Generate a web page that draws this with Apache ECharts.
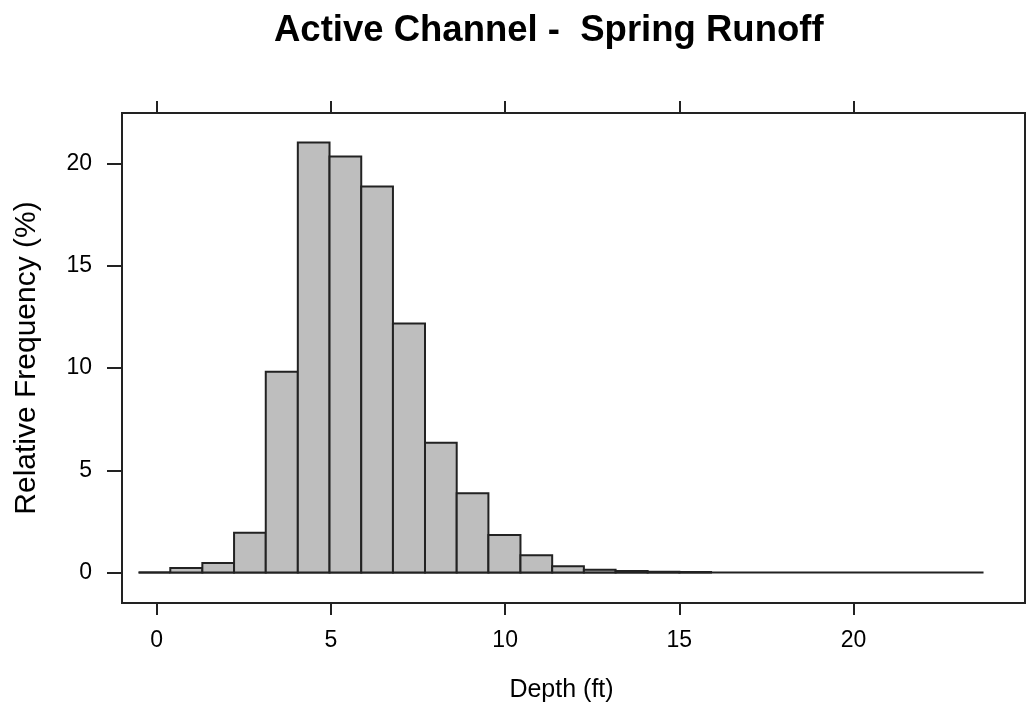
<!DOCTYPE html>
<html>
<head>
<meta charset="utf-8">
<script src="https://cdn.jsdelivr.net/npm/echarts@6/dist/echarts.min.js"></script>
<style>
html,body{margin:0;padding:0;background:#fff;}
#chart{width:1027px;height:708px;}
</style>
</head>
<body>
<div id="chart"></div>
<script>
// histogram breaks (ft) and relative frequency (%) per bin
var binEdges = [-0.52, 0.39, 1.31, 2.22, 3.13, 4.05, 4.96, 5.87, 6.78, 7.70, 8.61, 9.52, 10.44, 11.35, 12.26, 13.17, 14.09, 15.00, 15.91];
var relFreq = [0, 0.22, 0.46, 1.95, 9.82, 21.03, 20.34, 18.88, 12.18, 6.35, 3.88, 1.84, 0.85, 0.31, 0.14, 0.07, 0.04, 0.02];
var depthRange = [-0.52, 23.73];
var xTicks = [0, 5, 10, 15, 20];
var yTicks = [0, 5, 10, 15, 20];

var bins = [];
for (var i = 0; i < relFreq.length; i++) {
	bins.push([binEdges[i], binEdges[i + 1], relFreq[i]]);
}

var font = 'Liberation Sans, Arial, sans-serif';
var ink = '#222';

var chart = echarts.init(document.getElementById('chart'));
chart.setOption({
	animation: false,
	backgroundColor: '#fff',
	title: {
		text: 'Active Channel -  Spring Runoff',
		left: 269,
		top: 7,
		textStyle: {fontFamily: font, fontSize: 36.5, fontWeight: 'bold', color: '#000'}
	},
	grid: {
		left: 122, top: 113, width: 903, height: 490,
		show: true, borderColor: ink, borderWidth: 2, backgroundColor: '#fff'
	},
	xAxis: [{
		type: 'value', min: -0.996, max: 24.92, position: 'bottom',
		name: 'Depth (ft)', nameLocation: 'middle', nameGap: 75,
		nameTextStyle: {fontFamily: font, fontSize: 25, color: '#000', padding: [0, 24, 0, 0]},
		axisLine: {show: false, onZero: false},
		axisTick: {show: true, customValues: xTicks, length: 12, inside: false, lineStyle: {color: ink, width: 2}},
		axisLabel: {customValues: xTicks, fontFamily: font, fontSize: 23, color: '#000', margin: 26},
		splitLine: {show: false}
	}, {
		type: 'value', min: -0.996, max: 24.92, position: 'top',
		axisLine: {show: false, onZero: false},
		axisTick: {show: true, customValues: xTicks, length: 12, lineStyle: {color: ink, width: 2}},
		axisLabel: {show: false},
		splitLine: {show: false}
	}],
	yAxis: {
		type: 'value', min: -1.49, max: 22.47,
		name: 'Relative Frequency (%)', nameLocation: 'middle', nameGap: 80, nameRotate: 90,
		nameTextStyle: {fontFamily: font, fontSize: 30, color: '#000'},
		axisLine: {show: false, onZero: false},
		axisTick: {show: true, customValues: yTicks, length: 15, lineStyle: {color: ink, width: 2}},
		axisLabel: {customValues: yTicks, fontFamily: font, fontSize: 23, color: '#000', margin: 30},
		splitLine: {show: false}
	},
	series: [{
		type: 'line',
		data: [[depthRange[0], 0], [depthRange[1], 0]],
		symbol: 'none',
		lineStyle: {color: ink, width: 2},
		z: 1
	}, {
		type: 'custom',
		data: bins,
		encode: {x: [0, 1], y: 2},
		renderItem: function (params, api) {
			var p0 = api.coord([api.value(0), api.value(2)]);
			var p1 = api.coord([api.value(1), 0]);
			return {
				type: 'rect',
				shape: {x: p0[0], y: p0[1], width: p1[0] - p0[0], height: p1[1] - p0[1]},
				style: {fill: '#bebebe', stroke: ink, lineWidth: 2}
			};
		},
		z: 2
	}]
});
</script>
</body>
</html>
